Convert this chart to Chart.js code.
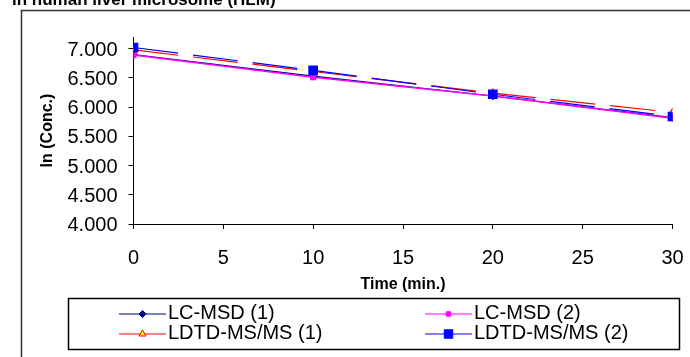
<!DOCTYPE html>
<html>
<head>
<meta charset="utf-8">
<script src="https://cdn.jsdelivr.net/npm/chart.js@4.4.1/dist/chart.umd.min.js"></script>
<style>
body{margin:0;background:#fff;}
canvas{display:block;}
</style>
</head>
<body>
<canvas id="myChart" width="690" height="357"></canvas>
<script>
// values
const timePoints = [0, 10, 20, 30];
const lcmsd1 = [6.90, 6.53, 6.19, 5.82];
const lcmsd2 = [6.89, 6.51, 6.19, 5.81];
const ldtd1  = [6.98, 6.61, 6.24, 5.91];
const ldtd2  = [7.02, 6.63, 6.22, 5.84];
const seriesNames = ["LC-MSD (1)", "LC-MSD (2)", "LDTD-MS/MS (1)", "LDTD-MS/MS (2)"];
const yTicks = [4.0, 4.5, 5.0, 5.5, 6.0, 6.5, 7.0];
const xTicks = [0, 5, 10, 15, 20, 25, 30];
const chartTitle = "in human liver microsome (HLM)";
const xTitle = "Time (min.)";
const yTitle = "ln (Conc.)";

const FONT = "'Liberation Sans', Arial, sans-serif";
Chart.defaults.font.family = FONT;
Chart.defaults.color = '#000';

function pts(vals){
    return timePoints.map((t, i) => ({x: t, y: vals[i]}));
}

// outer frame + cut-off title
const framePlugin = {
    id: 'frame',
    beforeDraw(chart){
        const ctx = chart.ctx;
        ctx.save();
        ctx.fillStyle = '#fff';
        ctx.fillRect(0, 0, chart.width, chart.height);
        ctx.strokeStyle = '#333';
        ctx.lineWidth = 1.5;
        ctx.beginPath();
        ctx.moveTo(21.5, chart.height);
        ctx.lineTo(21.5, 10.5);
        ctx.lineTo(chart.width, 10.5);
        ctx.stroke();
        ctx.fillStyle = '#000';
        ctx.font = "bold 17px " + FONT;
        ctx.textBaseline = 'alphabetic';
        ctx.fillText(chartTitle, 12, 5);
        ctx.restore();
    }
};

// boxed two-column legend
const legendPlugin = {
    id: 'boxLegend',
    afterDraw(chart){
        const ctx = chart.ctx;
        ctx.save();
        ctx.strokeStyle = '#000';
        ctx.lineWidth = 1.5;
        ctx.strokeRect(68.5, 298.5, 611, 51);
        chart.data.datasets.forEach((ds, i) => {
            const x0 = (i % 2) ? 425 : 119;
            const y = (i < 2) ? 314 : 334;
            ctx.setLineDash([]);
            ctx.strokeStyle = ds.borderColor;
            ctx.lineWidth = 1;
            ctx.beginPath();
            ctx.moveTo(x0, y);
            ctx.lineTo(x0 + 47, y);
            ctx.stroke();
            ctx.fillStyle = ds.pointBackgroundColor;
            ctx.strokeStyle = ds.pointBorderColor;
            Chart.helpers.drawPoint(ctx, {pointStyle: ds.pointStyle, radius: ds.pointRadius, borderWidth: 1, rotation: 0}, x0 + 23.5, y);
            ctx.fillStyle = '#000';
            ctx.font = "20px " + FONT;
            ctx.textBaseline = 'middle';
            ctx.fillText(ds.label, x0 + 49, y - 1);
        });
        ctx.restore();
    }
};

const ctx = document.getElementById('myChart');
const myChart = new Chart(ctx, {
    type: 'line',
    data: {
        datasets: [
            {
                label: seriesNames[0], data: pts(lcmsd1), order: 4,
                borderColor: '#000080', borderWidth: 1.2,
                pointStyle: 'rectRot', pointRadius: 3.5,
                pointBackgroundColor: '#000080', pointBorderColor: '#000080'
            },
            {
                label: seriesNames[1], data: pts(lcmsd2), order: 3,
                borderColor: '#FF00FF', borderWidth: 1.5,
                pointStyle: 'rect', pointRadius: 3.2,
                pointBackgroundColor: '#FF00FF', pointBorderColor: '#FF00FF'
            },
            {
                label: seriesNames[2], data: pts(ldtd1), order: 2,
                borderColor: '#FF0000', borderWidth: 1.2, borderDash: [45, 15],
                pointStyle: 'triangle', pointRadius: 4,
                pointBackgroundColor: '#FFFF00', pointBorderColor: '#FF0000'
            },
            {
                label: seriesNames[3], data: pts(ldtd2), order: 1,
                borderColor: '#0000FF', borderWidth: 1.2, borderDash: [45, 15],
                pointStyle: 'rect', pointRadius: 6,
                pointBackgroundColor: '#0000FF', pointBorderColor: '#0000FF'
            }
        ]
    },
    options: {
        responsive: false,
        devicePixelRatio: 1,
        animation: false,
        layout: {padding: {left: 0, top: 37, right: 17.5, bottom: 0}},
        plugins: {legend: {display: false}, tooltip: {enabled: false}},
        elements: {line: {tension: 0}, point: {borderWidth: 1}},
        scales: {
            x: {
                type: 'linear', min: 0, max: 30,
                afterBuildTicks: s => { s.ticks = xTicks.map(v => ({value: v})); },
                afterFit: s => { s.height = 133; s.paddingLeft = 0; s.paddingRight = 0; },
                grid: {drawOnChartArea: false, drawTicks: true, tickLength: 5, color: '#000'},
                border: {display: true, color: '#000', width: 1},
                ticks: {font: {size: 20}, padding: 17, maxRotation: 0},
                title: {display: true, text: xTitle, font: {size: 16, weight: 'bold'}, padding: {top: 0, bottom: 63}}
            },
            y: {
                type: 'linear', min: 4, max: 7.2,
                afterBuildTicks: s => { s.ticks = yTicks.map(v => ({value: v})); },
                afterFit: s => { s.width = 133.5; s.paddingTop = 0; s.paddingBottom = 0; },
                grid: {drawOnChartArea: false, drawTicks: true, tickLength: 5, color: '#000'},
                border: {display: true, color: '#000', width: 1},
                ticks: {font: {size: 20}, padding: 11, labelOffset: 1.5, callback: v => v.toFixed(3)},
                title: {display: true, text: yTitle, font: {size: 16, weight: 'bold'}, padding: {top: 37.5, bottom: 0}}
            }
        }
    },
    plugins: [framePlugin, legendPlugin]
});
</script>
</body>
</html>
